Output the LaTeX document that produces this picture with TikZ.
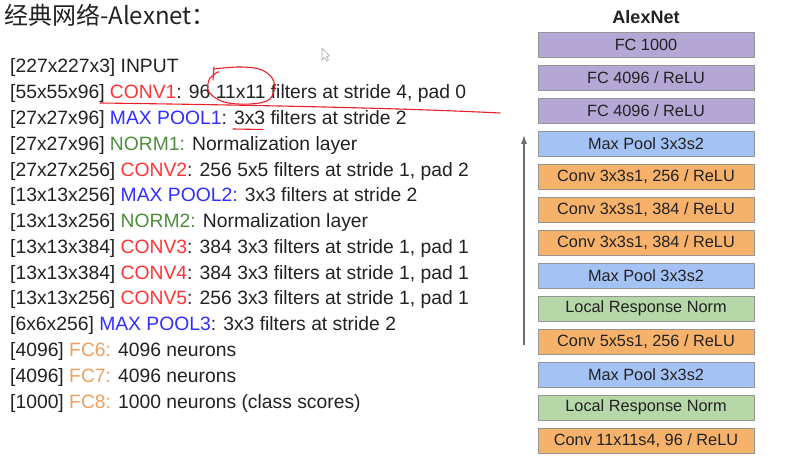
\documentclass[tikz,border=0pt]{standalone}
\usepackage{fontspec}
\setmainfont{Liberation Sans}
\newfontfamily\cjk{Noto Sans CJK SC}
\usetikzlibrary{arrows.meta}
\definecolor{cred}{HTML}{FF3535}
\definecolor{cblue}{HTML}{2F2FFF}
\definecolor{cgreen}{HTML}{4E8E3E}
\definecolor{corange}{HTML}{EFA060}
\definecolor{txt}{HTML}{222222}
\definecolor{bpurple}{HTML}{B4A7D6}
\definecolor{bblue}{HTML}{A4C2F4}
\definecolor{borange}{HTML}{F6B26B}
\definecolor{bgreen}{HTML}{B6D7A8}
\definecolor{bborder}{HTML}{959595}
\definecolor{ink}{HTML}{E8202A}
\tikzset{
  line/.style={anchor=base west, inner sep=0pt, text=txt, font=\fontsize{19.3}{23}\selectfont},
  layer/.style={draw=bborder, line width=0.8pt, minimum width=216pt, minimum height=25pt, inner sep=0pt, text=txt, font=\fontsize{16.3}{19}\selectfont},
  pl/.style={layer, fill=bpurple},
  bl/.style={layer, fill=bblue},
  ol/.style={layer, fill=borange},
  gl/.style={layer, fill=bgreen},
  pen/.style={draw=ink, line width=1.1pt, line cap=round, line join=round}
}
\newcommand{\Cr}[1]{\textcolor{cred}{#1}}
\newcommand{\Cb}[1]{\textcolor{cblue}{#1}}
\newcommand{\Cg}[1]{\textcolor{cgreen}{#1}}
\newcommand{\Co}[1]{\textcolor{corange}{#1}}
\begin{document}
\begin{tikzpicture}[x=1pt,y=-1pt]
\useasboundingbox[fill=white] (0,0) rectangle (810,462);
% title
\node[anchor=base west, inner sep=0pt, text=txt, font=\cjk\fontsize{24}{28}\selectfont] (title) at (4,25) {经典网络-Alexnet：};
% text lines
\def\pitch{25.77}
\node[line] (l1) at (10,73) {[227x227x3] INPUT};
\node[line] (l2) at (10,73+1*\pitch) {[55x55x96] \Cr{CONV1}: 96 11x11 filters at stride 4, pad 0};
\node[line] (l3) at (10,73+2*\pitch) {[27x27x96] \Cb{MAX POOL1}: 3x3 filters at stride 2};
\node[line] (l4) at (10,73+3*\pitch) {[27x27x96] \Cg{NORM1:} Normalization layer};
\node[line] (l5) at (10,73+4*\pitch) {[27x27x256] \Cr{CONV2}: 256 5x5 filters at stride 1, pad 2};
\node[line] (l6) at (10,73+5*\pitch) {[13x13x256] \Cb{MAX POOL2:} 3x3 filters at stride 2};
\node[line] (l7) at (10,73+6*\pitch) {[13x13x256] \Cg{NORM2:} Normalization layer};
\node[line] (l8) at (10,73+7*\pitch) {[13x13x384] \Cr{CONV3}: 384 3x3 filters at stride 1, pad 1};
\node[line] (l9) at (10,73+8*\pitch) {[13x13x384] \Cr{CONV4}: 384 3x3 filters at stride 1, pad 1};
\node[line] (l10) at (10,73+9*\pitch) {[13x13x256] \Cr{CONV5}: 256 3x3 filters at stride 1, pad 1};
\node[line] (l11) at (10,73+10*\pitch) {[6x6x256] \Cb{MAX POOL3}: 3x3 filters at stride 2};
\node[line] (l12) at (10,73+11*\pitch) {[4096] \Co{FC6:} 4096 neurons};
\node[line] (l13) at (10,73+12*\pitch) {[4096] \Co{FC7:} 4096 neurons};
\node[line] (l14) at (10,73+13*\pitch) {[1000] \Co{FC8:} 1000 neurons (class scores)};
% hand annotations
\draw[pen] (100,103) .. controls (250,105) and (400,108) .. (500,113);
\draw[pen] plot[smooth, tension=0.6] coordinates {(214,69) (240,67) (262,70) (274,82) (270,99) (250,104) (224,102) (209,92) (209,80) (216,73) (219,72)};
\draw[pen] (214,67) -- (213,80);
\draw[pen] (233,129) -- (263,129.5);
% cursor
\draw[draw=gray!70, line width=0.6pt, fill=white, line join=round] (322,48) -- (322,60) -- (324.5,57.5) -- (327,61) -- (328.5,60) -- (326.5,56.5) -- (329.5,56) -- cycle;
% AlexNet column
\node[inner sep=0pt, text=txt, font=\bfseries\fontsize{18}{21}\selectfont] (ahead) at (646,17) {AlexNet};
\node[pl] (b1) at (646,44.5+0*33) {FC 1000};
\node[pl] (b2) at (646,44.5+1*33) {FC 4096 / ReLU};
\node[pl] (b3) at (646,44.5+2*33) {FC 4096 / ReLU};
\node[bl] (b4) at (646,44.5+3*33) {Max Pool 3x3s2};
\node[ol] (b5) at (646,44.5+4*33) {Conv 3x3s1, 256 / ReLU};
\node[ol] (b6) at (646,44.5+5*33) {Conv 3x3s1, 384 / ReLU};
\node[ol] (b7) at (646,44.5+6*33) {Conv 3x3s1, 384 / ReLU};
\node[bl] (b8) at (646,44.5+7*33) {Max Pool 3x3s2};
\node[gl] (b9) at (646,44.5+8*33) {Local Response Norm};
\node[ol] (b10) at (646,44.5+9*33) {Conv 5x5s1, 256 / ReLU};
\node[bl] (b11) at (646,44.5+10*33) {Max Pool 3x3s2};
\node[gl] (b12) at (646,44.5+11*33) {Local Response Norm};
\node[ol] (b13) at (646,44.5+12*33) {Conv 11x11s4, 96 / ReLU};
% flow arrow
\coordinate (abot) at (524,345);
\coordinate (atop) at (524,135);
\draw[draw=gray!85!black, line width=1.2pt, -{Latex[length=9pt,width=6pt]}] (abot) -- (atop);
\end{tikzpicture}
\end{document}
